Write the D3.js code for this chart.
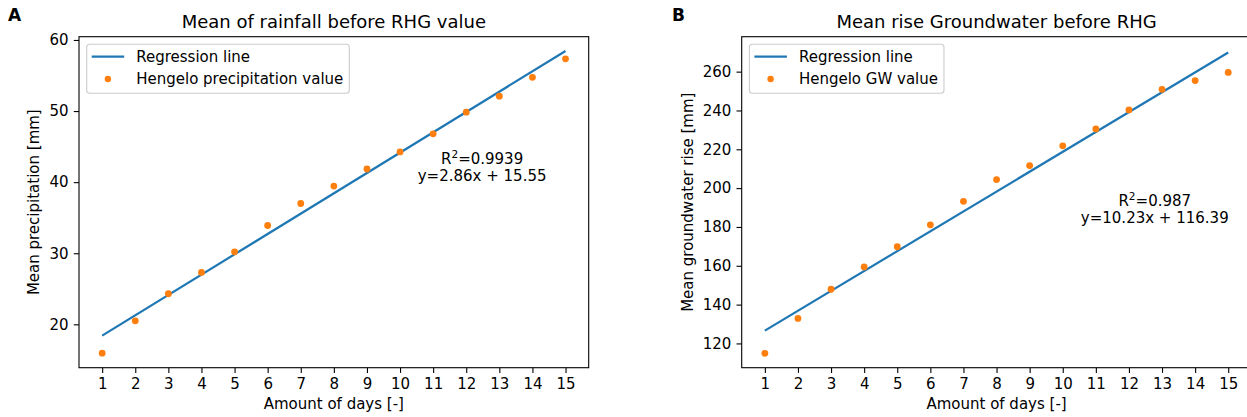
<!DOCTYPE html>
<html>
<head>
<meta charset="utf-8">
<script src="https://cdn.jsdelivr.net/npm/d3@7"></script>
<style>
  body { margin: 0; background: #fff; }
  svg { font-family: "DejaVu Sans", sans-serif; display: block; }
  svg text { fill: #000; }
</style>
</head>
<body>
<div class="chart"></div>
<script>
// days on x axis
const days = [1, 2, 3, 4, 5, 6, 7, 8, 9, 10, 11, 12, 13, 14, 15];

// panel A: mean precipitation before RHG [mm]
const precipValues = [15.95, 20.5, 24.3, 27.3, 30.2, 33.9, 37.0, 39.45, 41.85, 44.25, 46.8, 49.85, 52.1, 54.75, 57.35];
const precipFit = { slope: 2.86, intercept: 15.55, r2: "0.9939" };
const precipTicks = [20, 30, 40, 50, 60];

// panel B: mean groundwater rise before RHG [mm]
const gwValues = [114.9, 132.9, 147.9, 159.4, 169.8, 181.1, 193.2, 204.4, 211.6, 221.8, 230.5, 240.3, 250.9, 255.4, 259.6];
const gwFit = { slope: 10.23, intercept: 116.39, r2: "0.987" };
const gwTicks = [120, 140, 160, 180, 200, 220, 240, 260];

const svg_width = 1247;
const svg_height = 417;
const blue = "#1f77b4";
const orange = "#ff7f0e";
const fs = 15;      // base font size
const tick = 5.2;   // tick length / pad

const svg = d3.select(".chart").append("svg")
  .attr("width", svg_width).attr("height", svg_height);

function drawPanel(opts) {
  const left = opts.left, top = 36.7, width = 509.7, height = 331;
  const g = svg.append("g").attr("transform", `translate(${left},${top})`);

  const x = d3.scaleLinear([0.3, 15.7], [0, width]);
  const y = d3.scaleLinear(opts.yDomain, [height, 0]);

  // regression line
  const lineData = [days[0], days[days.length - 1]].map(d => [d, opts.fit.slope * d + opts.fit.intercept]);
  g.append("path")
    .datum(lineData)
    .attr("d", d3.line().x(d => x(d[0])).y(d => y(d[1])))
    .attr("fill", "none")
    .attr("stroke", blue)
    .attr("stroke-width", 2.2);

  // points
  g.selectAll(".pt")
    .data(days.map((d, i) => [d, opts.values[i]]))
    .enter().append("circle")
    .attr("class", "pt")
    .attr("cx", d => x(d[0]))
    .attr("cy", d => y(d[1]))
    .attr("r", 3.4)
    .attr("fill", orange);

  // axes
  const xAxis = d3.axisBottom(x).tickValues(days).tickSizeInner(tick).tickSizeOuter(0).tickPadding(tick);
  const xAxisDraw = g.append("g").attr("class", "x axis")
    .attr("transform", `translate(0,${height})`)
    .call(xAxis);
  const yAxis = d3.axisLeft(y).tickValues(opts.ticks).tickSizeInner(tick).tickSizeOuter(0).tickPadding(tick);
  const yAxisDraw = g.append("g").attr("class", "y axis").call(yAxis);
  [xAxisDraw, yAxisDraw].forEach(a => {
    a.attr("font-size", fs).attr("font-family", "DejaVu Sans");
    a.selectAll("line").attr("stroke", "#000").attr("stroke-width", 1.1);
    a.select(".domain").remove();
  });

  // frame
  g.append("rect")
    .attr("width", width).attr("height", height)
    .attr("fill", "none").attr("stroke", "#000").attr("stroke-width", 1.1);

  // titles
  g.append("text")
    .attr("x", width / 2).attr("y", -8.4)
    .attr("text-anchor", "middle")
    .style("font-size", "18px")
    .text(opts.title);

  svg.append("text")
    .attr("x", opts.letterX).attr("y", 21)
    .style("font-size", "17px").style("font-weight", "bold")
    .text(opts.letter);

  g.append("text")
    .attr("x", width / 2).attr("y", height + 41.3)
    .attr("text-anchor", "middle")
    .style("font-size", fs + "px")
    .text("Amount of days [-]");

  g.append("text")
    .attr("transform", "rotate(-90)")
    .attr("x", -height / 2)
    .attr("y", opts.yLabelX)
    .attr("text-anchor", "middle")
    .style("font-size", fs + "px")
    .text(opts.yLabel);

  // annotation
  const ann = g.append("text")
    .attr("x", x(opts.annX)).attr("y", y(opts.annY))
    .attr("text-anchor", "middle")
    .style("font-size", fs + "px");
  ann.append("tspan").text("R");
  ann.append("tspan").attr("dy", -6).style("font-size", "10.5px").text("2");
  ann.append("tspan").attr("dy", 6).text("=" + opts.fit.r2);
  g.append("text")
    .attr("x", x(opts.annX)).attr("y", y(opts.annY) + opts.annGap)
    .attr("text-anchor", "middle")
    .style("font-size", fs + "px")
    .text(`y=${opts.fit.slope}x + ${opts.fit.intercept}`);

  // legend
  const leg = g.append("g").attr("transform", "translate(7.7,7.6)");
  const box = leg.append("rect")
    .attr("height", 49).attr("rx", 3).attr("ry", 3)
    .attr("fill", "#fff").attr("fill-opacity", 0.8)
    .attr("stroke", "#cccccc").attr("stroke-width", 1.1);
  leg.append("line")
    .attr("x1", 5).attr("x2", 37.5).attr("y1", 12.4).attr("y2", 12.4)
    .attr("stroke", blue).attr("stroke-width", 2.2);
  leg.append("circle")
    .attr("cx", 21.2).attr("cy", 34.7).attr("r", 3.2)
    .attr("fill", orange);
  const t1 = leg.append("text").attr("x", 49.5).attr("y", 17.8).style("font-size", fs + "px").text("Regression line");
  const t2 = leg.append("text").attr("x", 49.5).attr("y", 40.2).style("font-size", fs + "px").text(opts.legendLabel);
  const tw = Math.max(t1.node().getComputedTextLength(), t2.node().getComputedTextLength());
  box.attr("width", 49.5 + tw + 6);
}

drawPanel({
  left: 79, letter: "A", letterX: 8,
  title: "Mean of rainfall before RHG value",
  yLabel: "Mean precipitation [mm]", yLabelX: -40,
  legendLabel: "Hengelo precipitation value",
  values: precipValues, fit: precipFit, ticks: precipTicks,
  yDomain: [13.9, 60.46],
  annX: 12.48, annY: 42.55, annGap: 17
});

drawPanel({
  left: 741.7, letter: "B", letterX: 672,
  title: "Mean rise Groundwater before RHG",
  yLabel: "Mean groundwater rise [mm]", yLabelX: -49,
  legendLabel: "Hengelo GW value",
  values: gwValues, fit: gwFit, ticks: gwTicks,
  yDomain: [107.5, 278.0],
  annX: 12.78, annY: 190.6, annGap: 16.5
});
</script>
</body>
</html>
